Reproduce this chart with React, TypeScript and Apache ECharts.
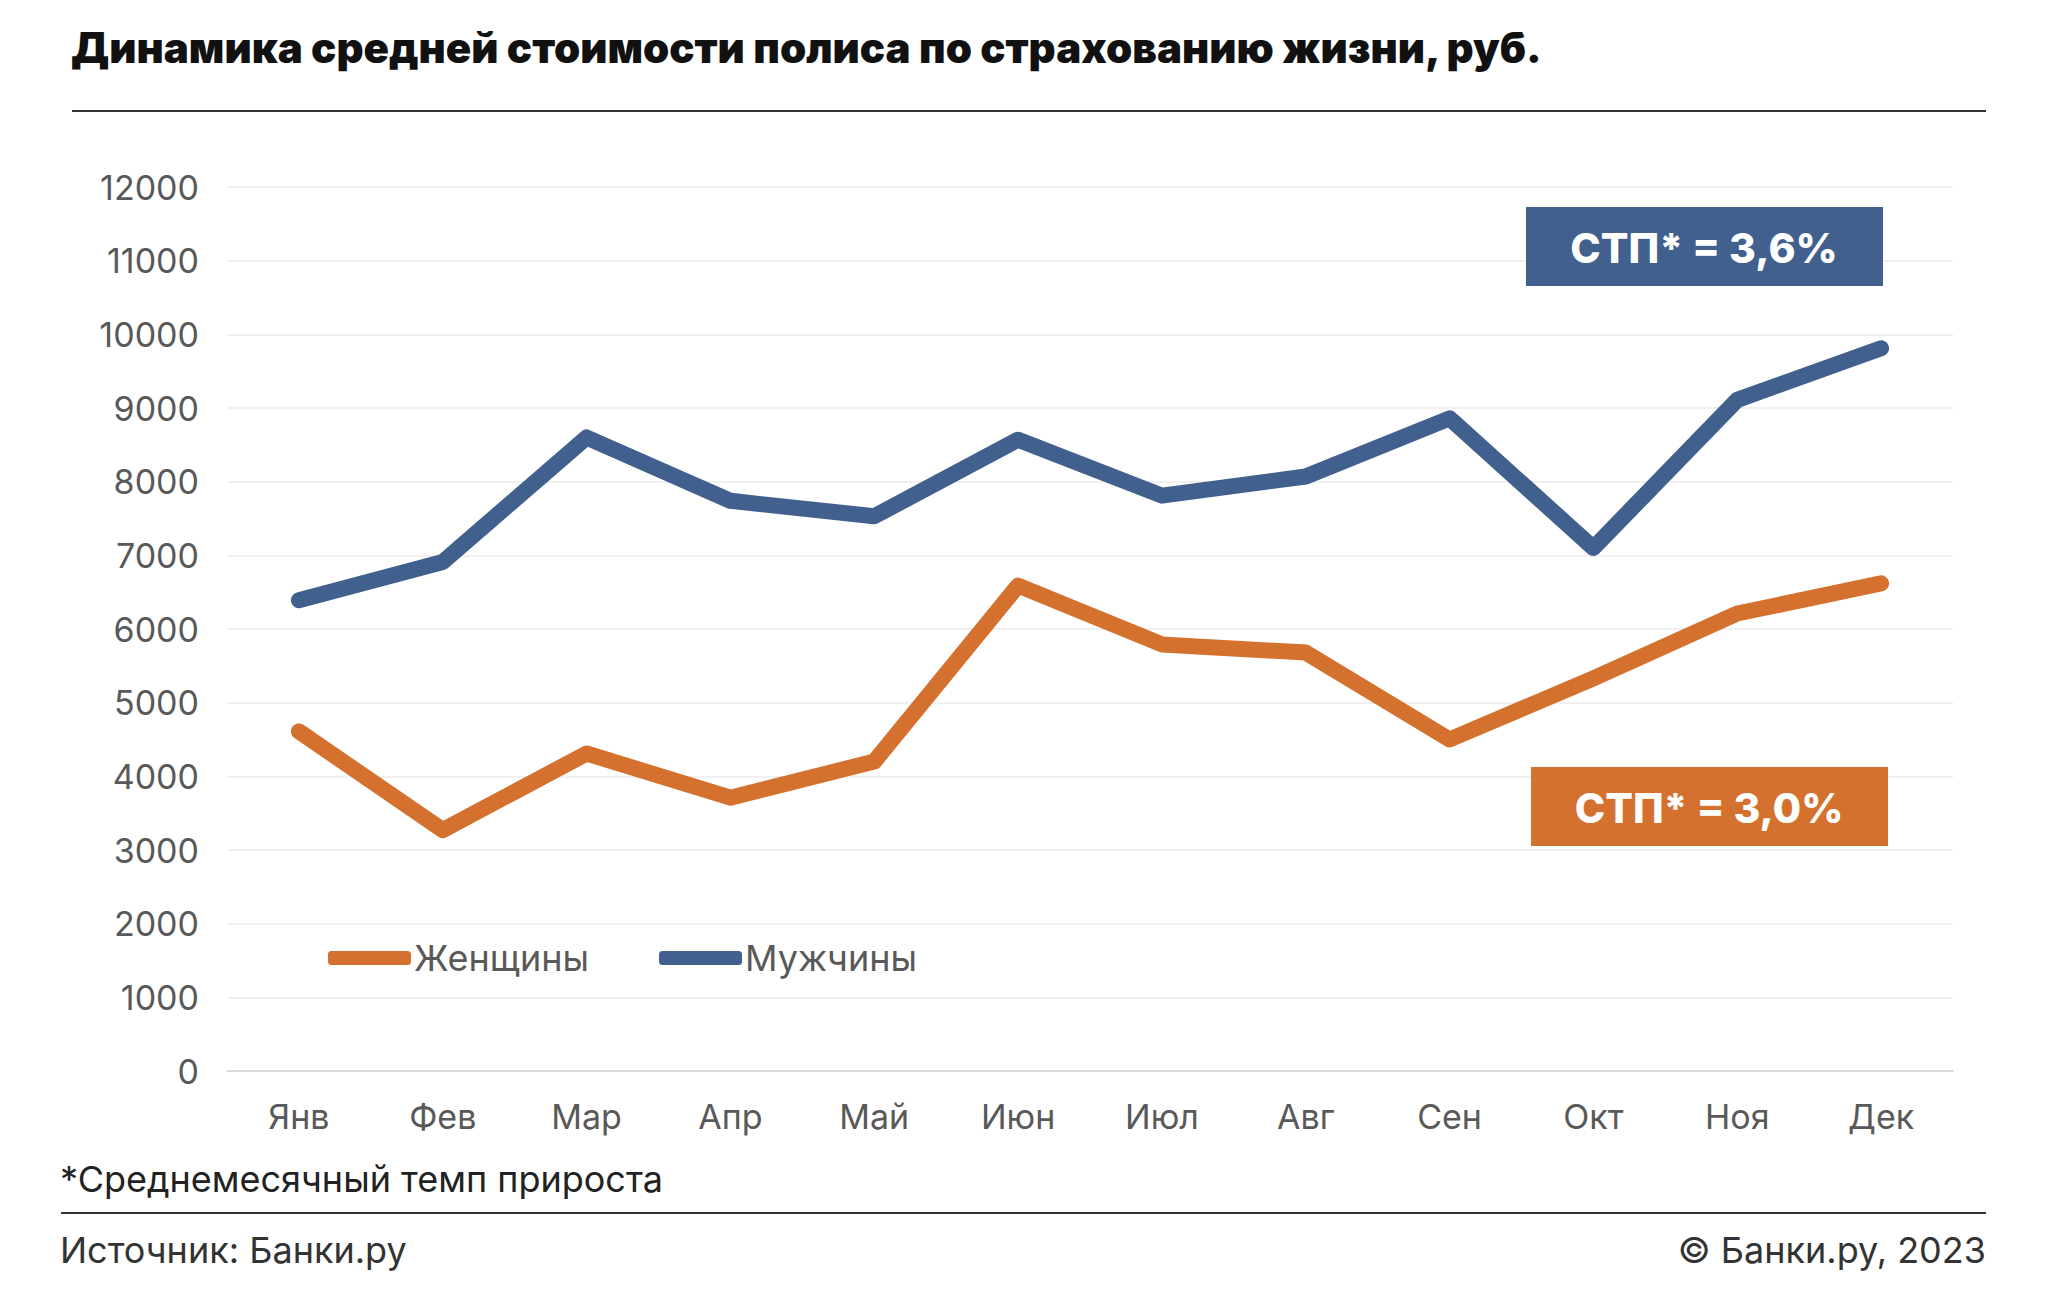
import React, { useEffect, useRef } from "react";
import * as echarts from "echarts";

const months = ["Янв", "Фев", "Мар", "Апр", "Май", "Июн", "Июл", "Авг", "Сен", "Окт", "Ноя", "Дек"];
const women = [4610, 3270, 4310, 3710, 4200, 6590, 5790, 5680, 4500, 5330, 6210, 6620];
const men = [6390, 6910, 8600, 7740, 7530, 8570, 7810, 8070, 8860, 7100, 9110, 9810];
const seriesNames = ["Женщины", "Мужчины"];
const badgeMen = "СТП* = 3,6%";
const badgeWomen = "СТП* = 3,0%";
const titleText = "Динамика средней стоимости полиса по страхованию жизни, руб.";
const footnote = "*Среднемесячный темп прироста";
const sourceText = "Источник: Банки.ру";
const copyrightText = "© Банки.ру, 2023";

const ORANGE = "#D5712E";
const BLUE = "#41608E";
const FONT = "Inter, 'Noto Sans', sans-serif";

export default function App() {
  const ref = useRef<HTMLDivElement>(null);
  useEffect(() => {
    document.body.style.margin = "0";
    const chart = echarts.init(ref.current!, null, { renderer: "svg" });
    chart.setOption({
      animation: false,
      backgroundColor: "#ffffff",
      textStyle: { fontFamily: FONT },
      title: [
        {
          text: titleText,
          left: 66,
          top: 21,
          textStyle: { fontFamily: FONT, fontSize: 42, fontWeight: 900, color: "#111111" },
        },
        {
          text: footnote,
          left: 55,
          top: 1156,
          textStyle: { fontFamily: FONT, fontSize: 36, fontWeight: 400, color: "#222222" },
        },
        {
          text: sourceText,
          left: 55,
          top: 1227,
          textStyle: { fontFamily: FONT, fontSize: 36, fontWeight: 400, color: "#333333" },
        },
        {
          text: copyrightText,
          right: 59,
          top: 1227,
          textStyle: { fontFamily: FONT, fontSize: 36, fontWeight: 400, color: "#333333" },
        },
      ],
      legend: {
        left: 323,
        top: 935,
        itemWidth: 83,
        itemHeight: 14,
        itemGap: 70,
        icon: "roundRect",
        textStyle: { fontFamily: FONT, fontSize: 36, color: "#595959", padding: [0, 0, 0, -2] },
        data: seriesNames,
      },
      grid: { left: 227, right: 97, top: 187, bottom: 219 },
      xAxis: {
        type: "category",
        data: months,
        boundaryGap: true,
        axisLine: { show: true, lineStyle: { color: "#d9d9d9", width: 2 } },
        axisTick: { show: false },
        axisLabel: { fontFamily: FONT, fontSize: 34, color: "#595959", margin: 28 },
      },
      yAxis: {
        type: "value",
        min: 0,
        max: 12000,
        interval: 1000,
        axisLine: { show: false },
        axisTick: { show: false },
        splitLine: { lineStyle: { color: "#f0f0f0", width: 2 } },
        axisLabel: {
          fontFamily: FONT,
          fontSize: 34,
          color: "#595959",
          margin: 28,
          formatter: (v: number) => String(v),
        },
      },
      series: [
        {
          name: seriesNames[0],
          type: "line",
          data: women,
          symbol: "none",
          color: ORANGE,
          lineStyle: { color: ORANGE, width: 16, cap: "round", join: "round" },
        },
        {
          name: seriesNames[1],
          type: "line",
          data: men,
          symbol: "none",
          color: BLUE,
          lineStyle: { color: BLUE, width: 16, cap: "round", join: "round" },
        },
      ],
      graphic: [
        {
          type: "line",
          z: 100,
          shape: { x1: 72, y1: 111, x2: 1986, y2: 111 },
          style: { stroke: "#333333", lineWidth: 2 },
        },
        {
          type: "line",
          z: 100,
          shape: { x1: 61, y1: 1213, x2: 1986, y2: 1213 },
          style: { stroke: "#333333", lineWidth: 2 },
        },
        {
          type: "group",
          left: 1526,
          top: 207,
          z: 100,
          children: [
            { type: "rect", z: 100, shape: { x: 0, y: 0, width: 357, height: 79 }, style: { fill: BLUE } },
            {
              type: "text",
              z: 101,
              x: 178,
              y: 41,
              style: {
                text: badgeMen,
                fill: "#ffffff",
                fontFamily: FONT,
                fontSize: 41,
                fontWeight: 800,
                align: "center",
                verticalAlign: "middle",
              },
            },
          ],
        },
        {
          type: "group",
          left: 1531,
          top: 767,
          z: 100,
          children: [
            { type: "rect", z: 100, shape: { x: 0, y: 0, width: 357, height: 79 }, style: { fill: ORANGE } },
            {
              type: "text",
              z: 101,
              x: 178,
              y: 41,
              style: {
                text: badgeWomen,
                fill: "#ffffff",
                fontFamily: FONT,
                fontSize: 41,
                fontWeight: 800,
                align: "center",
                verticalAlign: "middle",
              },
            },
          ],
        },
      ],
    });
    return () => chart.dispose();
  }, []);
  return <div ref={ref} style={{ width: 2050, height: 1290 }} />;
}
